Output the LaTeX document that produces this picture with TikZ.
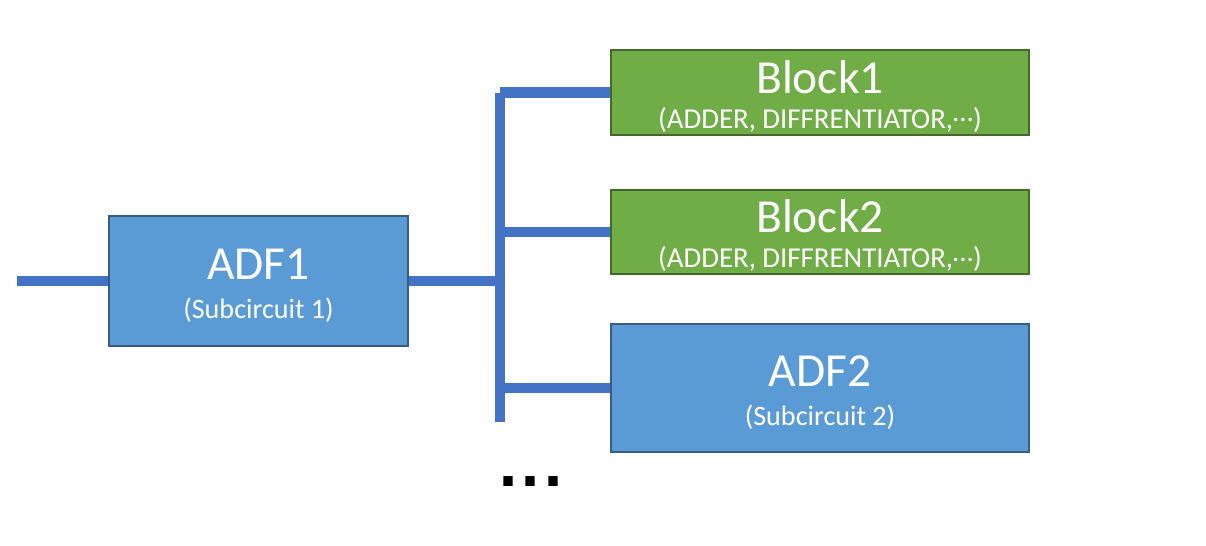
\documentclass[tikz,border=0pt]{standalone}
\usepackage{fontspec}
\setmainfont{Carlito}
\newfontfamily\dotfont{DejaVu Sans}
\usetikzlibrary{positioning,calc}

\newcommand{\midots}{\raisebox{0.22em}{…}}

\begin{document}
\begin{tikzpicture}[
  b/.style={rectangle,draw=#1!60!black,fill=#1,line width=0.7pt,text=white,
            minimum width=41.8mm,align=center,inner sep=0pt},
  wire/.style={line width=2.85pt,draw=cwire,line cap=butt},
]
  \definecolor{cadf}{HTML}{5B9BD5}
  \definecolor{cblk}{HTML}{70AD47}
  \definecolor{cwire}{HTML}{4472C4}

  \useasboundingbox (0,0) rectangle (12.06,5.45);

  % subcircuit on the left
  \node[b=cadf,minimum width=29.9mm,minimum height=13mm] (adf1) at (2.585,2.64)
    {\fontsize{13.5}{16}\selectfont\rule{0pt}{11.5pt}ADF1\\[-1pt]\fontsize{8}{10}\selectfont (Subcircuit 1)};
  % blocks on the right
  \node[b=cblk,minimum height=8.5mm] (blk1) at (8.20,4.525)
    {\fontsize{13.5}{15}\selectfont\rule{0pt}{11.5pt}Block1\\[-2pt]\fontsize{8.2}{10}\selectfont (ADDER, DIFFRENTIATOR,\midots)};
  \node[b=cblk,minimum height=8.4mm] (blk2) at (8.20,3.13)
    {\fontsize{13.5}{15}\selectfont\rule{0pt}{11.5pt}Block2\\[-2pt]\fontsize{8.2}{10}\selectfont (ADDER, DIFFRENTIATOR,\midots)};
  \node[b=cadf,minimum height=12.8mm] (adf2) at (8.20,1.57)
    {\fontsize{13.5}{16}\selectfont\rule{0pt}{11.5pt}ADF2\\[-1pt]\fontsize{8}{10}\selectfont (Subcircuit 2)};

  % bus
  \coordinate (in) at (0.17,2.64);
  \coordinate (bustop) at (5.0,4.52);
  \coordinate (busbot) at (5.0,1.23);
  \draw[wire] (in) -- (adf1.west);
  \draw[wire] (adf1.east) -- (adf1.east -| bustop);
  \draw[wire] (bustop) -- (busbot);
  \draw[wire] (bustop |- blk1.west) -- (blk1.west);
  \draw[wire] (bustop |- blk2.west) -- (blk2.west);
  \draw[wire] (bustop |- adf2.west) -- (adf2.west);

  % more subcircuits follow
  \node[inner sep=0pt,font=\dotfont\fontsize{15}{15}\selectfont\bfseries] (more) at (5.31,0.63) {.\kern0.6pt.\kern0.6pt.};
\end{tikzpicture}
\end{document}
